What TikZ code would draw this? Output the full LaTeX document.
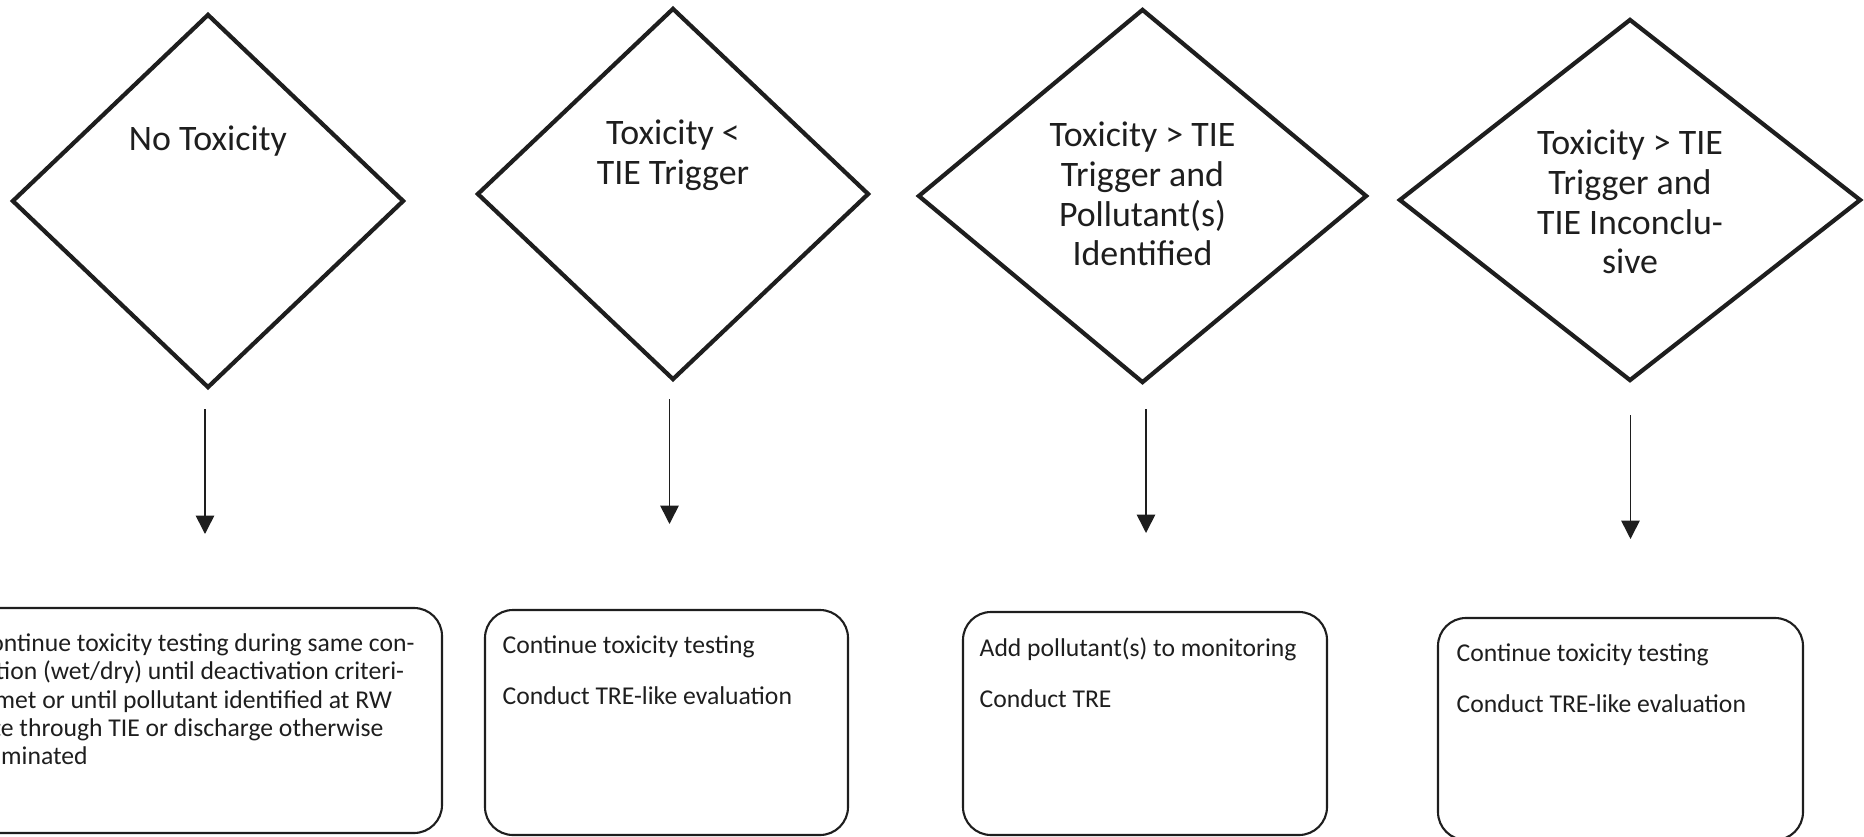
\documentclass[tikz,border=0pt]{standalone}
\usepackage{fontspec}
\setmainfont{Carlito}
\usetikzlibrary{shapes.geometric,arrows.meta}
\definecolor{ink}{HTML}{1E1E1E}
\newcommand\condfont{\fontsize{10.2pt}{11.3pt}\selectfont}
\newcommand\actfont{\fontsize{7.3pt}{8.05pt}\selectfont}
\tikzset{
  cond/.style={diamond, draw=ink, line width=1.2pt, inner sep=0pt},
  condtext/.style={align=center, font=\condfont, text=ink, inner sep=0pt},
  actbox/.style={draw=ink, line width=0.6pt, rounded corners=0.28cm, inner sep=0pt},
  acttext/.style={align=left, anchor=north west, font=\actfont, text=ink, inner sep=0pt},
  flow/.style={draw=ink, line width=0.45pt, -{Triangle[width=5.2pt,length=5.2pt]}}
}

\begin{document}
\begin{tikzpicture}
			%%%%% START %%%%%
			\useasboundingbox (0, 0) rectangle (18.64, -8.37);
			\clip (0, 0) rectangle (18.64, -8.37);
			
			% conditions
			\node[cond, minimum width=3.92cm, minimum height=3.74cm] (notox) at (2.08, -2.01) {};
			\node[condtext] (notoxtxt) at ([yshift=0.60cm]notox.center) {No Toxicity};
			
			\node[cond, minimum width=3.92cm, minimum height=3.72cm] (lowtox) at (6.73, -1.94) {};
			\node[condtext] (lowtoxtxt) at ([yshift=0.39cm]lowtox.center) {Toxicity <\\TIE Trigger};
			
			\node[cond, minimum width=4.49cm, minimum height=3.74cm] (polid) at (11.425, -1.96) {};
			\node[condtext] (polidtxt) at ([yshift=0.02cm]polid.center) {Toxicity > TIE\\Trigger and\\Pollutant(s)\\Identified};
			
			\node[cond, minimum width=4.62cm, minimum height=3.62cm] (inconc) at (16.30, -2.00) {};
			\node[condtext] (inconctxt) at ([yshift=-0.02cm]inconc.center) {Toxicity > TIE\\Trigger and\\TIE Inconclu-\\sive};
			
			% actions
			\node[actbox, minimum width=4.72cm, minimum height=2.25cm] (contbox) at (2.06, -7.205) {};
			\node[acttext] (conttxt) at ([shift={(0.07,-0.26)}]contbox.north west) {Continue toxicity testing during same con-\\dition (wet/dry) until deactivation criteri-\\a met or until pollutant identified at RW\\site through TIE or discharge otherwise\\eliminated};
			
			\node[actbox, minimum width=3.63cm, minimum height=2.25cm] (lowbox) at (6.665, -7.225) {};
			\node[acttext] (lowtxt) at ([shift={(0.18,-0.26)}]lowbox.north west) {Continue toxicity testing\\[6.45pt]Conduct TRE-like evaluation};
			
			\node[actbox, minimum width=3.64cm, minimum height=2.23cm] (trebox) at (11.45, -7.235) {};
			\node[acttext] (tretxt) at ([shift={(0.17,-0.26)}]trebox.north west) {Add pollutant(s) to monitoring\\[6.45pt]Conduct TRE};
			
			\node[actbox, minimum width=3.65cm, minimum height=2.22cm] (inconcbox) at (16.205, -7.29) {};
			\node[acttext] (inconcboxtxt) at ([shift={(0.19,-0.26)}]inconcbox.north west) {Continue toxicity testing\\[6.45pt]Conduct TRE-like evaluation};
			
			% arrows
			\coordinate (a1s) at (2.05, -4.09);
			\coordinate (a1e) at (2.05, -5.34);
			\coordinate (a2s) at (6.695, -3.99);
			\coordinate (a2e) at (6.695, -5.24);
			\coordinate (a3s) at (11.46, -4.09);
			\coordinate (a3e) at (11.46, -5.33);
			\coordinate (a4s) at (16.305, -4.15);
			\coordinate (a4e) at (16.305, -5.39);
			\foreach \i in {1,...,4}
				\draw[flow] (a\i s) -- (a\i e);
			
			%%%%% END %%%%%
\end{tikzpicture}
\end{document}
